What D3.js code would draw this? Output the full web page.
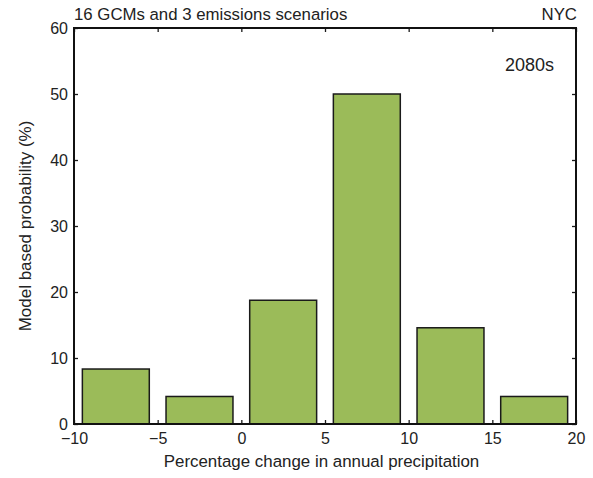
<!DOCTYPE html>
<html>
<head>
<meta charset="utf-8">
<script src="https://cdn.jsdelivr.net/npm/d3@7"></script>
<style>
  html, body { margin: 0; padding: 0; background: #fff; }
  svg { display: block; font-family: "Liberation Sans", Arial, Helvetica, sans-serif; }
</style>
</head>
<body>
<svg id="chart" width="593" height="478"></svg>
<script>
// Histogram bins: percentage change in annual precipitation (lower / upper edges)
const binStart = [-9.5, -4.5, 0.5, 5.5, 10.5, 15.5];
const binEnd   = [-5.5, -0.5, 4.5, 9.5, 14.5, 19.5];
// Model based probability (%) for each bin
const probability = [8.33, 4.17, 18.75, 50, 14.58, 4.17];

const xTicks = [-10, -5, 0, 5, 10, 15, 20];
const xTickLabels = ["\u221210", "\u22125", "0", "5", "10", "15", "20"];
const yTicks = [0, 10, 20, 30, 40, 50, 60];

const svg = d3.select("#chart");
const plotL = 74, plotR = 576, plotT = 28, plotB = 424;

const x = d3.scaleLinear().domain([-10, 20]).range([plotL, plotR]);
const y = d3.scaleLinear().domain([0, 60]).range([plotB, plotT]);

const textColor = "#222";
const tickLen = 4;

// Bars
svg.append("g")
  .selectAll("rect")
  .data(probability)
  .join("rect")
  .attr("x", (d, i) => x(binStart[i]))
  .attr("width", (d, i) => x(binEnd[i]) - x(binStart[i]))
  .attr("y", d => y(d))
  .attr("height", d => y(0) - y(d))
  .attr("fill", "#9bbb59")
  .attr("stroke", "#1a1a1a")
  .attr("stroke-width", 1.5);

// Axes with inward ticks on all four sides
const axisBottom = d3.axisBottom(x).tickValues(xTicks).tickSize(-tickLen)
  .tickFormat((d, i) => xTickLabels[i]).tickPadding(9);
const axisTop = d3.axisTop(x).tickValues(xTicks).tickSize(-tickLen).tickFormat("");
const axisLeft = d3.axisLeft(y).tickValues(yTicks).tickSize(-tickLen).tickPadding(6);
const axisRight = d3.axisRight(y).tickValues(yTicks).tickSize(-tickLen).tickFormat("");

function style(g) {
  g.select(".domain").remove();
  g.selectAll(".tick line").attr("stroke", "#1a1a1a").attr("stroke-width", 1.3);
  g.selectAll(".tick text").attr("fill", textColor).style("font-size", "16px");
}

svg.append("g").attr("transform", `translate(0,${plotB})`).call(axisBottom).call(style);
svg.append("g").attr("transform", `translate(0,${plotT})`).call(axisTop).call(style);
svg.append("g").attr("transform", `translate(${plotL},0)`).call(axisLeft).call(style);
svg.append("g").attr("transform", `translate(${plotR},0)`).call(axisRight).call(style);

// Frame
svg.append("rect")
  .attr("x", plotL).attr("y", plotT)
  .attr("width", plotR - plotL).attr("height", plotB - plotT)
  .attr("fill", "none").attr("stroke", "#111").attr("stroke-width", 2);

// Header texts
svg.append("text").attr("x", plotL).attr("y", 20)
  .attr("fill", textColor).style("font-size", "16.8px")
  .text("16 GCMs and 3 emissions scenarios");
svg.append("text").attr("x", plotR + 1).attr("y", 20).attr("text-anchor", "end")
  .attr("fill", textColor).style("font-size", "16.8px")
  .text("NYC");
svg.append("text").attr("x", 554).attr("y", 71).attr("text-anchor", "end")
  .attr("fill", textColor).style("font-size", "18px")
  .text("2080s");

// Axis titles
svg.append("text").attr("x", 321.5).attr("y", 467).attr("text-anchor", "middle")
  .attr("fill", textColor).style("font-size", "16.9px")
  .text("Percentage change in annual precipitation");
svg.append("text")
  .attr("transform", `translate(31,${(plotT + plotB) / 2}) rotate(-90)`)
  .attr("text-anchor", "middle")
  .attr("fill", textColor).style("font-size", "17px")
  .text("Model based probability (%)");
</script>
</body>
</html>
